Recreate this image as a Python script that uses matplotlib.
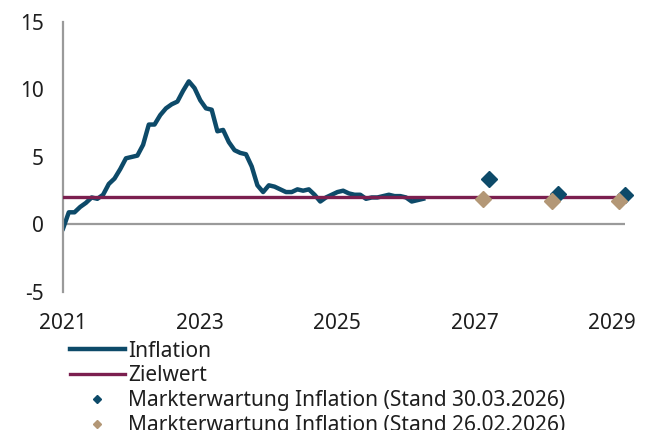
import numpy as np
import matplotlib
matplotlib.use("Agg")
import matplotlib.pyplot as plt

plt.rcParams['font.family'] = ['Noto Sans', 'DejaVu Sans']
plt.rcParams['axes.unicode_minus'] = False

# monthly HICP inflation, Dec 2020 .. Mar 2026 (placed at month end)
inflation = [-0.3,
             0.9, 0.9, 1.3, 1.6, 2.0, 1.9, 2.2, 3.0, 3.4, 4.1, 4.9, 5.0,
             5.1, 5.9, 7.4, 7.4, 8.1, 8.6, 8.9, 9.1, 9.9, 10.6, 10.1, 9.2,
             8.6, 8.5, 6.9, 7.0, 6.1, 5.5, 5.3, 5.2, 4.3, 2.9, 2.4, 2.9,
             2.8, 2.6, 2.4, 2.4, 2.6, 2.5, 2.6, 2.2, 1.7, 2.0, 2.2, 2.4,
             2.5, 2.3, 2.2, 2.2, 1.9, 2.0, 2.0, 2.1, 2.2, 2.1, 2.1, 2.0,
             1.7, 1.8, 1.9]
x_infl = 2021 + np.arange(len(inflation)) / 12

target = 2.0
target_range = [2021, 2029.2]

exp_mar_x = [2027.21, 2028.22, 2029.2]
exp_mar = [3.35, 2.25, 2.2]
exp_feb_x = [2027.12, 2028.13, 2029.11]
exp_feb = [1.9, 1.75, 1.75]

years = [2021, 2023, 2025, 2027, 2029]

navy = "#0d4a69"
purple = "#7b1f4f"
tan = "#b39776"
grey = "#9a9a9a"
txt = "#1e1e1e"

fig = plt.figure(figsize=(6.64, 4.30), dpi=100)
ax = fig.add_axes([0.095, 0.321, 0.847, 0.628])

ax.axhline(0, color=grey, lw=1.6, zorder=1)
ax.plot(x_infl, inflation, color=navy, lw=3.2, label="Inflation", zorder=2,
        solid_joinstyle="round")
ax.plot(target_range, [target, target], color=purple, lw=2.4, label="Zielwert", zorder=3)
ax.plot(exp_mar_x, exp_mar, "D", color=navy, ms=8, ls="none", clip_on=False,
        label="Markterwartung Inflation (Stand 30.03.2026)", zorder=4)
ax.plot(exp_feb_x, exp_feb, "D", color=tan, ms=8, ls="none", clip_on=False,
        label="Markterwartung Inflation (Stand 26.02.2026)", zorder=5)

ax.set_xlim(2021, 2029.2)
ax.set_ylim(-5, 15)
ax.set_yticks([-5, 0, 5, 10, 15])
ax.set_xticks(years)
ax.set_xticklabels([str(y) for y in years])
ax.tick_params(axis="both", length=0, labelsize=15, colors=txt)
ax.tick_params(axis="x", pad=15)
ax.tick_params(axis="y", pad=14)

for s in ["top", "right", "bottom"]:
    ax.spines[s].set_visible(False)
ax.spines["left"].set_color(grey)
ax.spines["left"].set_linewidth(1.6)

leg = ax.legend(loc="upper left", bbox_to_anchor=(0.012, -0.18), frameon=False,
                fontsize=15, handlelength=2.65, handletextpad=0.15,
                labelspacing=0.18, markerscale=0.5, borderaxespad=0,
                borderpad=0)
for t in leg.get_texts():
    t.set_color(txt)

fig.savefig("out.png", dpi=100)
